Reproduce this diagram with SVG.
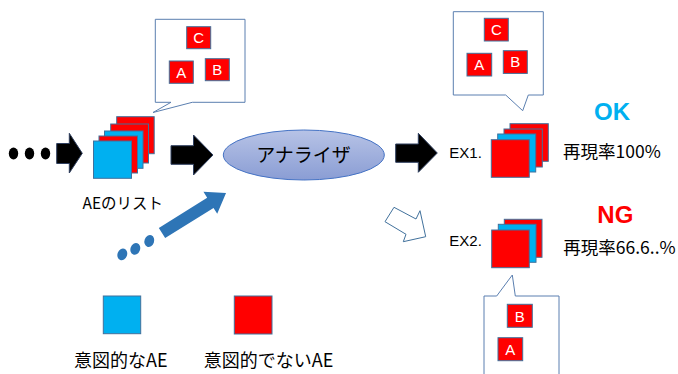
<svg xmlns="http://www.w3.org/2000/svg" width="678" height="374" viewBox="0 0 678 374">
<defs>
<style>
.sq{stroke:#41719C;stroke-width:1}
.r{fill:#FF0000}
.c{fill:#00B0F0}
.call{fill:#FFFFFF;stroke:#5B7FB0;stroke-width:1}
.lt{font-family:"Liberation Sans",sans-serif;font-size:15px;fill:#FFFFFF;text-anchor:middle}
.jp{font-family:"Noto Sans CJK JP",sans-serif;fill:#000000}
.ex{font-family:"Liberation Sans",sans-serif;font-size:15px;fill:#000000}
.blk{fill:#000000;stroke:#2F3F5F;stroke-width:1}
.bd{fill:#2E75B6}
</style>
<linearGradient id="eg" x1="0" y1="0" x2="0" y2="1">
<stop offset="0" stop-color="#B7C3E6"/>
<stop offset="1" stop-color="#8A9DD4"/>
</linearGradient>
</defs>

<g id="connectors">
<ellipse cx="13.5" cy="153.5" rx="4.7" ry="6"/>
<ellipse cx="29.5" cy="153.5" rx="4.7" ry="6"/>
<ellipse cx="45.5" cy="153.5" rx="4.7" ry="6"/>
<polygon class="blk" points="56.7,143.5 69.3,143.5 69.3,133.3 82.3,153.3 69.3,173 69.3,163.5 56.7,163.5"/>
<polygon class="blk" points="171,145.7 193.5,145.7 193.5,135 213,155 193.5,175 193.5,164.3 171,164.3"/>
<polygon class="blk" points="395.7,144 418.3,144 418.3,133.3 437.3,153 418.3,172.3 418.3,162.3 395.7,162.3"/>
<g transform="translate(162,233) rotate(-32)">
<polygon class="bd" points="0,-6 57,-6 57,-13 75.5,0 57,13 57,6 0,6"/>
</g>
<ellipse class="bd" cx="122.3" cy="254.3" rx="4.8" ry="6" transform="rotate(20 122.3 254.3)"/>
<ellipse class="bd" cx="135.3" cy="248.8" rx="4.8" ry="6" transform="rotate(20 135.3 248.8)"/>
<ellipse class="bd" cx="149.3" cy="241" rx="4.8" ry="6" transform="rotate(20 149.3 241)"/>
<polygon points="385,221.7 394,207.3 416,219 420,210.7 425.7,236.7 403.3,241.7 406,234.3" fill="#FFFFFF" stroke="#41719C" stroke-width="1"/>
</g>

<g id="callout-list">
<path class="call" d="M155.3,19.3 H245 V102.3 H192.3 L153,112.5 L171,102.3 H155.3 Z"/>
<rect class="sq r" x="186.7" y="26.7" width="24" height="22"/>
<text class="lt" x="198.7" y="43">C</text>
<rect class="sq r" x="169.3" y="61" width="24" height="22.3"/>
<text class="lt" x="181.3" y="77.5">A</text>
<rect class="sq r" x="205.3" y="58.7" width="24" height="22"/>
<text class="lt" x="217.3" y="75">B</text>
</g>

<g id="ae-list">
<rect class="sq r" x="116.7" y="116.7" width="37.5" height="37"/>
<rect class="sq r" x="110.7" y="124" width="37.8" height="39"/>
<rect class="sq c" x="104.5" y="131" width="38.5" height="37.3"/>
<rect class="sq r" x="99" y="136" width="38.5" height="37"/>
<rect class="sq c" x="93.5" y="141" width="38" height="37.3"/>
<text class="jp" x="82.5" y="209" font-size="15.5">AEのリスト</text>
</g>

<g id="analyzer">
<ellipse cx="303.8" cy="155" rx="80.5" ry="25" fill="url(#eg)" stroke="#4472C4" stroke-width="1"/>
<text class="jp" x="303.5" y="162" font-size="19" text-anchor="middle">アナライザ</text>
</g>

<g id="callout-ex1">
<path class="call" d="M453.3,11.7 H543.3 V95 H528.3 L522.7,110.7 L505.7,95 H453.3 Z"/>
<rect class="sq r" x="484.3" y="18.3" width="24" height="22.7"/>
<text class="lt" x="496.3" y="35">C</text>
<rect class="sq r" x="467" y="53.3" width="24.7" height="22.7"/>
<text class="lt" x="479.3" y="70">A</text>
<rect class="sq r" x="503.3" y="50.7" width="24" height="22.7"/>
<text class="lt" x="515.3" y="67.3">B</text>
</g>

<g id="ex1">
<text class="ex" x="449.3" y="158.3">EX1.</text>
<rect class="sq r" x="510" y="123.7" width="38.3" height="37.6"/>
<rect class="sq r" x="504" y="129" width="38.3" height="38"/>
<rect class="sq c" x="497.7" y="134" width="38" height="38"/>
<rect class="sq r" x="491.3" y="139.7" width="38" height="37.6"/>
<text x="612" y="120" font-family="Liberation Sans, sans-serif" font-weight="bold" font-size="24" fill="#00B0F0" text-anchor="middle">OK</text>
<text class="jp" x="563" y="157.5" font-size="17.5">再現率100%</text>
</g>

<g id="ex2">
<text class="ex" x="449.3" y="245.7">EX2.</text>
<rect class="sq r" x="504.3" y="219.3" width="37.7" height="38"/>
<rect class="sq c" x="498.3" y="224.3" width="37.7" height="38"/>
<rect class="sq r" x="491.7" y="230" width="37.6" height="37.7"/>
<text x="615.3" y="222.7" font-family="Liberation Sans, sans-serif" font-weight="bold" font-size="24" fill="#FF0000" text-anchor="middle">NG</text>
<text class="jp" x="563.3" y="253.5" font-size="17.5">再現率66.6..%</text>
</g>

<g id="callout-ex2">
<path class="call" d="M484,380 V296 H496.7 L512.3,275 L515.3,296 H559 V380"/>
<rect class="sq r" x="507.3" y="304.3" width="25" height="23"/>
<text class="lt" x="519.8" y="321.5">B</text>
<rect class="sq r" x="498" y="337.7" width="24.7" height="23"/>
<text class="lt" x="510.3" y="355">A</text>
</g>

<g id="legend-intended">
<rect class="sq c" x="103.3" y="296" width="37.4" height="37.7"/>
<text class="jp" x="74" y="367" font-size="18">意図的なAE</text>
</g>

<g id="legend-unintended">
<rect class="sq r" x="234.3" y="296" width="37.7" height="38"/>
<text class="jp" x="203.7" y="367" font-size="18">意図的でないAE</text>
</g>
</svg>
